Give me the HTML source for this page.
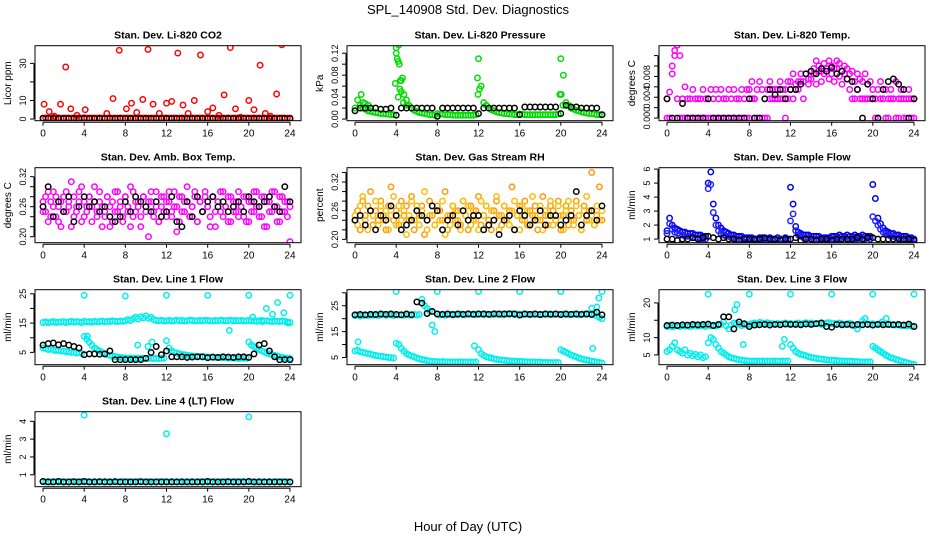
<!DOCTYPE html>
<html><head><meta charset="utf-8"><title>SPL_140908 Std. Dev. Diagnostics</title>
<style>
html,body{margin:0;padding:0;background:#fff;}
svg{display:block;font-family:"Liberation Sans",Arial,sans-serif;}
</style></head>
<body>
<svg id="chart" width="936" height="540" viewBox="0 0 936 540" xmlns="http://www.w3.org/2000/svg">
<text x="468" y="14" text-anchor="middle" font-size="13">SPL_140908  Std. Dev. Diagnostics</text>
<text x="468" y="531" text-anchor="middle" font-size="13">Hour of Day (UTC)</text>
</svg>
<script>
// ---------- data ----------
const xTicks = [0,4,8,12,16,20,24];

const co2Black = [.4,.3,.3,.3,.3,.3,.3,.3,.3,.3,.3,.3,.3,.3,.3,.3,.3,.3,.3,.3,.3,.3,.3,.3,.3,.3,.3,.3,.3,.3,.3,.3,.3,.3,.3,.3,.3,.3,.3,.3,.3,.3,.3,.3,.3,.3,.3,.3,.3];
const co2RedBase = [.5,.6,.5,.5,.7,.5,.6,.5,.5,.6,.5,.5,.6,.5,.5,.5,.7,.5,.5,.6,.5,.5,.6,.5,.5,.5,.6,.5,.5,.5,.6,.5,.5,.6,.5,.5,.5,.6,.5,.5,.6,.5,.5,.5,.6,.5,.5,.6,.5,.5,.5,.6,.5,.5,.6,.5,.5,.5,.6,.5,.5,.6,.5,.5,.5,.6,.5,.5,.6,.5,.5,.5,.6,.5,.5,.6,.5,.5,.5,.6,.5,.5,.6,.5,.5,.5,.6,.5,.5,.6,.5,.5,.5,.6,.5,.5,.5];
const co2RedOutT = [0.1,0.6,1.1,1.7,2.2,2.7,3.3,4.1,6.2,6.8,7.4,8.1,8.6,9.1,9.7,10.2,10.7,11.3,12.0,12.5,13.1,13.6,14.1,14.7,15.3,16.0,16.5,17.1,17.6,18.2,18.7,19.2,20.0,20.5,21.1,21.6,22.1,22.7,23.2];
const co2RedOutV = [8,4,1.5,8,28,5.5,2,5,3,11,37,5.5,8.5,3.5,10.5,37.5,8,3,8.5,9.5,35.5,7.5,3,10,34.5,4,6,2,13,38.5,5.5,1,10,5,29,3,1.5,13.5,40];

const presGreen = [.02,.035,.025,.02,.018,.015,.014,.013,.012,.011,.01,.01,.009,.009,.008,.008,
 .12,.135,.07,.045,.035,.025,.02,.016,.014,.012,.011,.01,.009,.008,.008,.007,
 .01,.009,.009,.008,.008,.008,.007,.007,.007,.007,.007,.007,.007,.007,.007,.008,
 .11,.06,.03,.025,.02,.017,.015,.013,.012,.011,.01,.01,.009,.009,.008,.008,
 .009,.009,.008,.008,.008,.008,.008,.008,.008,.008,.008,.008,.008,.008,.008,.009,
 .11,.08,.03,.025,.02,.018,.016,.015,.013,.012,.011,.01,.01,.009,.008,.008,.008];
const presGreenOutT = [0.6,0.8,1.0,1.3,3.9,4.0,4.1,4.2,4.3,4.4,4.5,4.6,4.2,4.35,11.9,11.95,12.1,19.9,20.05,20.2,4.7,5.0];
const presGreenOutV = [.045,.03,.028,.025,.065,.13,.11,.105,.1,.07,.05,.075,.04,.055,.075,.045,.055,.045,.045,.025,.03,.025];
const presBlack = [.015,.02,.02,.02,.02,.018,.018,.02,.007,.02,.02,.02,.02,.02,.02,.02,.005,.02,.02,.02,.02,.02,.02,.02,.01,.02,.02,.02,.02,.02,.02,.02,.008,.022,.022,.022,.022,.022,.022,.022,.01,.025,.022,.022,.02,.02,.02,.02,.008];

const tempMagA = [.0037,.005,.01,.013,.014,.012,.0037,.006,.0037,.0037,.0055,.0037,.0037,.0037,.0055,.0037,
 .0037,.0055,.0037,.0055,.0037,.0055,.0037,.0037,.0055,.0037,.0055,.0037,.0037,.0055,.0037,.0055,
 .0055,.007,.0037,.0055,.007,.0055,.0037,.0055,.007,.0055,.0037,.0055,.007,.0055,.0055,.007,
 .007,.0085,.0055,.007,.0085,.007,.0085,.0075,.009,.0095,.011,.01,.009,.0105,.0095,.011,
 .01,.0095,.011,.0105,.009,.01,.0095,.0085,.009,.007,.0085,.0075,.007,.0085,.0065,.007,
 .0055,.0037,.0055,.007,.0037,.0055,.0037,.0055,.0037,.007,.0037,.0055,.0037,.0037,.0055,.0037,.0037];
const tempMagB = [0,0,.0085,.012,.0037,0,0,0,0,0,0,0,0,0,0,0,
 0,0,0,0,0,0,0,0,0,0,0,0,0,0,0,0,
 0,.0037,.0037,0,0,0,0,0,.0037,.0037,.0055,.0037,.0037,.0037,0,.0037,
 .0055,.0037,.0065,.0055,.007,.0037,.0085,.0065,.0075,.0085,.0065,.009,.007,.0085,.0095,.0075,
 .0085,.007,.0095,.008,.0065,.0085,.0075,.0055,.0037,.0037,.0055,.0037,.0037,.0037,.0037,.0037,
 .0037,0,0,.0037,.0037,0,0,.0037,.0037,0,0,.0037,0,0,.0037,0,0];
const tempBlack = [.0037,0,0,.0028,0,0,0,0,.0037,0,0,0,0,0,0,0,.0037,0,0,.0037,.0055,.0045,.0055,.0037,.0055,.0055,.0065,.0085,.009,.0085,.0095,.009,.0097,.0085,.009,.0075,.007,.0055,0,.0065,.0037,0,.0055,.007,.0075,.0065,.0055,0,.0037];

const ambMagA = [.27,.25,.29,.24,.26,.28,.23,.27,.25,.29,.26,.22,.28,.25,.27,.30,.24,.26,.28,.23,.27,.25,.29,.26,.24,.28,.22,.27,.25,.29,.26,.23,.28,.25,.30,.24,.27,.26,.22,.28,.25,.27,.29,.24,.26,.23,.28,.25,.27,.29,.24,.26,.21,.28,.25,.27,.30,.24,.26,.28,.23,.27,.25,.29,.26,.24,.28,.22,.27,.25,.29,.26,.23,.28,.25,.27,.24,.26,.28,.23,.27,.25,.29,.26,.24,.28,.22,.27,.25,.29,.26,.23,.28,.25,.27,.24,.26];
const ambMagB = [.25,.28,.23,.27,.29,.24,.26,.22,.28,.25,.27,.31,.24,.26,.29,.23,.27,.25,.28,.26,.30,.24,.27,.22,.25,.28,.26,.23,.29,.25,.27,.24,.28,.26,.22,.29,.25,.27,.24,.28,.26,.20,.27,.25,.29,.23,.26,.28,.24,.27,.25,.29,.26,.23,.28,.25,.27,.24,.26,.29,.23,.27,.25,.28,.26,.22,.28,.25,.27,.29,.24,.26,.28,.23,.27,.25,.29,.26,.24,.28,.23,.27,.25,.29,.26,.24,.28,.22,.27,.25,.29,.26,.23,.28,.25,.27,.19];
const ambBlack = [.26,.30,.24,.27,.25,.28,.23,.26,.28,.26,.27,.25,.26,.24,.23,.24,.27,.25,.28,.27,.26,.25,.27,.24,.25,.28,.23,.22,.27,.24,.28,.25,.27,.28,.26,.27,.25,.26,.27,.25,.28,.27,.26,.27,.28,.26,.25,.30,.27];

const rhA = [.24,.26,.22,.28,.25,.27,.30,.23,.26,.24,.28,.25,.22,.27,.31,.24,.26,.23,.28,.25,.27,.24,.29,.22,.26,.25,.27,.21,.24,.28,.25,.23,.27,.26,.24,.30,.22,.25,.27,.24,.26,.23,.28,.25,.22,.27,.24,.26,.29,.23,.25,.27,.24,.22,.26,.28,.25,.23,.27,.24,.26,.31,.22,.25,.27,.24,.28,.23,.26,.25,.27,.22,.24,.29,.25,.23,.27,.26,.24,.28,.22,.25,.27,.23,.26,.24,.28,.25,.22,.27,.24,.26,.34,.23,.25,.31,.24];
const rhB = [.25,.23,.27,.29,.24,.22,.26,.25,.28,.23,.27,.24,.26,.22,.25,.29,.23,.27,.24,.26,.21,.25,.28,.24,.27,.23,.26,.30,.22,.25,.27,.23,.26,.24,.28,.21,.25,.23,.27,.26,.24,.22,.28,.25,.27,.23,.26,.24,.22,.28,.25,.27,.23,.26,.24,.29,.22,.25,.27,.24,.23,.26,.28,.25,.22,.27,.24,.26,.23,.29,.25,.24,.27,.22,.26,.25,.28,.23,.24,.27,.25,.22,.26,.28,.24,.23,.27,.25,.22,.26,.29,.24,.25,.23,.27,.24,.26];
const rhBlack = [.24,.25,.23,.26,.22,.25,.24,.27,.25,.22,.23,.24,.26,.25,.24,.27,.26,.22,.24,.25,.23,.26,.24,.25,.25,.22,.23,.24,.21,.24,.25,.22,.26,.25,.23,.24,.26,.23,.25,.25,.23,.24,.25,.30,.23,.25,.26,.24,.27];

const flowBlue = [1.6,2.5,2.0,1.8,1.7,1.6,1.5,1.5,1.4,1.4,1.4,1.3,1.3,1.3,1.2,1.2,
 5.0,5.8,3.5,2.5,2.0,1.8,1.6,1.5,1.4,1.3,1.3,1.2,1.2,1.2,1.1,1.1,
 1.1,1.1,1.0,1.0,1.1,1.1,1.0,1.0,1.1,1.0,1.0,1.1,1.0,1.0,1.1,1.0,
 4.7,3.5,1.9,1.5,1.4,1.3,1.3,1.3,1.2,1.2,1.2,1.2,1.1,1.1,1.1,1.1,
 1.2,1.2,1.2,1.3,1.2,1.2,1.3,1.2,1.2,1.3,1.2,1.2,1.3,1.2,1.2,1.2,
 4.9,3.9,2.5,2.1,1.8,1.6,1.5,1.4,1.4,1.3,1.3,1.2,1.2,1.2,1.1,1.1,1.0];
const flowBlue2 = [1.4,2.1,1.7,1.5,1.4,1.3,1.3,1.2,1.2,1.2,1.1,1.1,1.1,1.0,1.0,1.0,
 4.6,4.9,2.9,2.0,1.6,1.4,1.3,1.2,1.2,1.1,1.1,1.0,1.0,1.0,1.0,1.0,
 0.9,1.0,0.9,0.9,1.0,0.9,0.9,1.0,0.9,0.9,1.0,0.9,0.9,1.0,0.9,0.9,
 2.3,2.8,1.6,1.3,1.2,1.1,1.1,1.1,1.0,1.0,1.0,1.0,1.0,0.9,0.9,0.9,
 1.0,1.0,1.1,1.0,1.0,1.1,1.0,1.0,1.1,1.0,1.0,1.1,1.0,1.0,1.1,1.0,
 2.6,2.3,2.0,1.7,1.5,1.4,1.3,1.2,1.2,1.1,1.1,1.0,1.0,1.0,1.0,0.9,0.9];
const flowBlack = [1.0,1.0,0.9,1.0,1.0,1.1,1.0,1.1,1.2,1.1,1.0,1.1,1.0,1.0,0.9,1.0,1.0,1.0,1.0,1.1,1.0,1.0,0.9,1.0,1.0,1.1,0.9,1.0,1.0,0.9,1.0,1.0,0.9,1.0,1.0,1.0,1.0,1.1,1.0,1.1,1.1,1.0,1.0,1.0,1.0,1.0,1.0,1.0,0.9];

const l1Top = [15.2,15.4,15.1,15.3,15.5,15.2,15.4,15.3,15.5,15.2,15.4,15.6,15.3,15.5,15.4,15.2,15.6,15.4,15.5,15.3,15.6,15.4,15.5,15.7,15.4,15.6,15.5,15.8,15.6,15.5,15.7,15.6,15.8,16.2,15.9,16.5,17.0,16.4,17.2,16.8,17.5,16.6,17.0,16.2,15.9,15.8,16.0,15.7,15.8,15.9,15.7,15.8,16.0,15.8,15.9,15.7,15.8,16.0,15.9,15.7,15.8,15.9,15.8,16.0,15.9,15.8,15.7,15.9,15.8,16.0,15.9,15.8,15.9,16.0,15.8,15.9,15.8,15.9,15.7,15.8,15.9,15.7,15.8,15.6,15.8,15.9,15.7,15.8,15.6,15.5,15.7,15.6,15.5,15.7,15.6,15.4,15.2];
const l1Low = [6.5,6.3,6.0,6.2,5.8,5.6,5.8,5.4,5.5,5.2,5.3,5.0,5.1,4.8,4.9,4.6,
 10.5,9.5,8.5,7.5,6.5,6.0,5.5,5.0,4.5,4.2,4.0,3.8,3.6,3.4,3.3,3.2,
 3.1,3.0,3.1,3.0,2.9,3.0,2.9,3.0,2.9,3.0,3.0,2.9,3.0,2.9,3.0,3.0,
 9.0,6.5,5.5,5.0,4.8,4.5,4.3,4.2,4.0,3.9,3.8,3.7,3.6,3.6,3.5,3.5,
 3.4,3.4,3.3,3.3,3.3,3.2,3.2,3.2,3.1,3.1,3.1,3.0,3.0,3.0,3.0,3.0,
 8.5,7.5,7.0,6.5,6.0,5.5,5.2,4.8,4.5,4.2,4.0,3.8,3.5,3.3,3.1,3.0,2.9];
const l1OutT = [4,8,12,16,20,24,4.3,9.2,10.2,10.6,18.1,20.4,21.3,21.7,22.3,22.8,23.4,23.8];
const l1OutV = [24.5,24.2,24.5,24.5,24.5,24.5,10.5,7.5,7.0,8.5,12.5,17.0,15.5,20.0,18.0,22.0,18.5,15.0];
const l1Black = [7.5,8,8.2,7.6,8,7.5,7,6.5,4.2,4.5,4.5,4.4,4.5,5.5,2.5,2.5,2.5,2.5,2.5,2.5,3,5,7,4.2,5.5,3.5,3.5,3.5,3.3,3.4,3.5,3.5,3.2,3.4,3.3,3.5,3.4,3.3,3.5,3.5,3.3,4.5,7.5,8,5.5,3.5,2.5,2.5,2.5];

const l2Top = [21.2,21.4,21.0,21.3,21.5,21.2,21.4,21.3,21.5,21.2,21.4,21.6,21.3,21.5,21.4,21.2,21.6,21.4,21.5,21.3,21.6,21.4,21.5,21.7,21.4,21.6,27.5,25.0,24.0,23.0,17.5,15.0,21.8,21.4,21.6,21.3,21.5,21.7,21.4,21.6,21.5,21.8,21.6,21.5,21.7,21.6,21.8,21.5,21.9,21.7,21.6,21.8,21.7,21.5,21.6,21.8,21.7,21.5,21.6,21.8,21.7,21.9,21.6,21.8,21.7,21.6,21.8,21.7,21.5,21.6,21.8,21.7,21.5,21.6,21.8,21.7,21.9,21.6,21.8,21.7,21.6,21.8,21.7,21.5,21.6,21.8,21.7,21.5,21.6,21.8,21.7,21.9,24.0,22.0,21.0,20.5,20.0];
const l2Low = [7.5,7.8,7.2,7.0,6.8,6.5,6.3,6.0,5.8,5.6,5.5,5.3,5.2,5.0,4.9,4.8,
 10.5,10.0,8.5,7.5,6.5,6.0,5.6,5.2,4.8,4.5,4.2,4.0,3.8,3.6,3.5,3.4,
 3.4,3.3,3.4,3.3,3.3,3.2,3.3,3.2,3.3,3.3,3.2,3.3,3.2,3.3,3.2,3.3,
 8.0,6.5,5.8,5.3,5.0,4.8,4.5,4.3,4.1,4.0,3.9,3.8,3.7,3.6,3.6,3.5,
 3.5,3.4,3.4,3.3,3.3,3.3,3.2,3.2,3.2,3.1,3.1,3.0,3.0,3.0,3.0,3.0,
 8.0,7.5,7.0,6.5,6.0,5.6,5.2,4.8,4.5,4.2,4.0,3.8,3.6,3.4,3.2,3.0,2.9];
const l2OutT = [4,8,12,16,20,24,0.3,11.6,23.1,23.5,23.7];
const l2OutV = [30.5,30.5,30.5,30.5,30.5,30.5,11,9.5,8.5,24.5,28];
const l2Black = [21.5,21.6,21.5,21.7,21.6,21.8,21.7,21.8,21.6,21.5,21.8,21.5,26.5,26.0,22.0,22.8,21.8,21.7,21.8,21.6,21.8,21.7,21.9,21.7,21.8,21.8,21.7,21.9,21.8,21.8,21.9,21.8,21.4,21.8,21.7,21.8,21.6,21.8,21.7,21.8,21.6,21.8,21.7,21.8,21.7,21.8,21.6,22.5,21.5];

const l3Top = [13.2,13.5,13.1,13.3,13.5,13.2,13.4,13.3,13.5,13.2,13.4,13.6,13.3,13.5,13.4,13.2,13.6,13.4,13.5,13.3,13.6,13.8,14.5,13.4,12.5,13.6,14.2,14.0,13.8,13.5,13.7,13.6,13.8,14.0,14.2,13.9,14.4,14.2,14.0,14.3,14.1,14.0,13.9,14.1,13.8,14.0,14.2,13.9,14.1,13.9,14.0,14.2,13.9,14.1,14.3,14.0,14.2,13.9,14.0,14.1,13.8,14.0,14.2,14.3,14.0,14.1,13.9,14.2,14.0,13.8,14.0,14.1,13.9,13.4,12.5,13.6,14.8,15.5,13.8,13.9,14.0,13.8,13.9,14.0,13.7,13.8,13.9,13.7,13.8,13.6,13.7,13.5,13.6,13.4,13.5,13.3,13.2];
const l3Low = [6.0,6.5,7.5,8.5,6.5,6.0,5.5,6.5,5.0,5.5,4.8,5.2,4.5,5.0,4.2,4.5,
 8.5,10.0,9.5,8.0,7.0,6.0,5.5,5.0,4.5,4.2,4.0,3.8,3.6,3.5,3.4,3.3,
 3.3,3.2,3.3,3.2,3.2,3.3,3.2,3.3,3.2,3.2,3.3,3.2,3.2,3.3,3.2,3.3,
 8.0,7.0,6.0,5.5,5.2,5.0,4.8,4.5,4.3,4.2,4.0,3.9,3.8,3.7,3.6,3.5,
 3.5,3.4,3.4,3.3,3.3,3.3,3.2,3.2,3.2,3.1,3.1,3.0,3.0,3.0,3.0,3.0,
 7.5,7.0,6.5,6.0,5.5,5.0,4.6,4.2,4.0,3.7,3.5,3.2,3.0,2.8,2.6,2.4,2.3];
const l3OutT = [4,8,12,16,20,24,6.6,6.8,7.4,11.2,11.4,20.9,21.3];
const l3OutV = [22.5,22.5,22.5,22.5,22.5,22.5,18,19.5,8,7.5,9.5,14.5,15.5];
const l3Black = [13.5,13.6,13.5,13.7,13.6,13.8,13.7,13.8,13.9,13.5,13.8,16,16,12.5,14.5,14.0,13.2,13.6,13.7,13.8,13.6,13.8,13.7,13.9,13.8,13.8,13.7,13.9,13.8,14.0,14.2,13.2,13.0,13.8,13.7,13.8,13.6,13.8,13.7,13.8,13.6,13.8,13.7,13.8,13.7,13.8,13.6,13.9,13.2];

const l4Cyan = [.62,.6,.62,.6,.61,.62,.6,.62,.6,.61,.6,.62,.6,.61,.6,.62,.6,.62,.61,.6,.62,.6,.61,.6,.62,.6,.61,.6,.62,.6,.61,.62,.6,.62,.6,.61,.6,.62,.6,.61,.6,.62,.6,.61,.6,.62,.6,.62,.61,.6,.62,.6,.61,.6,.62,.6,.61,.6,.62,.6,.61,.62,.6,.62,.6,.61,.6,.62,.6,.61,.6,.62,.6,.61,.6,.62,.6,.62,.61,.6,.62,.6,.61,.6,.62,.6,.61,.6,.62,.6,.61,.62,.6,.62,.6,.61,.6];
const l4OutT = [4,12,20];
const l4OutV = [4.35,3.3,4.25];
const l4Black = [.62,.6,.6,.62,.6,.6,.61,.6,.62,.6,.6,.61,.6,.6,.61,.6,.6,.6,.6,.61,.6,.6,.6,.6,.6,.6,.6,.6,.6,.6,.6,.6,.62,.6,.6,.6,.61,.6,.6,.6,.62,.6,.6,.6,.6,.6,.6,.6,.6];

// ---------- drawing ----------
const NS = "http://www.w3.org/2000/svg";
const svg = document.getElementById("chart");
const XMIN = -0.78, XMAX = 25.07, BW = 266;
function reg(arr){ const n=arr.length; return arr.map((v,i)=>i*24/(n-1)); }

const panels = [
 {name:"co2", title:"Stan. Dev. Li-820 CO2", col:0,row:0, ymin:-0.9,ymax:39.5, ticks:[0,10,20,30], labs:["0","10","","30"], ylab:"Licor ppm",
  series:[["red-points",co2RedBase,null,"#ff0000"],["red-outliers",co2RedOutV,co2RedOutT,"#ff0000"],["black-points",co2Black,null,"#000"]]},
 {name:"pressure", title:"Stan. Dev. Li-820 Pressure", col:1,row:0, ymin:-0.003,ymax:0.1337, ticks:[0,.02,.04,.06,.08,.1,.12], labs:["0.00","","0.04","","0.08","","0.12"], ylab:"kPa",
  series:[["green-points",presGreen,null,"#00dd00"],["green-outliers",presGreenOutV,presGreenOutT,"#00dd00"],["black-points",presBlack,null,"#000"]]},
 {name:"temp", title:"Stan. Dev. Li-820 Temp.", col:2,row:0, ymin:-0.0005,ymax:0.0139, ticks:[0,.002,.004,.006,.008,.01,.012], labs:["0.000","","0.004","","0.008","",""], ylab:"degrees C",
  series:[["magenta-points-a",tempMagA,null,"#ff00ff"],["magenta-points-b",tempMagB,null,"#ff00ff"],["black-points",tempBlack,null,"#000"]]},
 {name:"amb-box", title:"Stan. Dev. Amb. Box Temp.", col:0,row:1, ymin:0.188,ymax:0.338, ticks:[.2,.22,.24,.26,.28,.3,.32], labs:["0.20","","","0.26","","","0.32"], ylab:"degrees C",
  series:[["magenta-points-a",ambMagA,null,"#ff00ff"],["magenta-points-b",ambMagB,null,"#ff00ff"],["black-points",ambBlack,null,"#000"]]},
 {name:"rh", title:"Stan. Dev. Gas Stream RH", col:1,row:1, ymin:0.193,ymax:0.35, ticks:[.2,.22,.24,.26,.28,.3,.32,.34], labs:["0.20","","","0.26","","","0.32",""], ylab:"percent",
  series:[["orange-points-a",rhA,null,"#ff9900"],["yellow-points-b",rhB,null,"#ffbb00"],["black-points",rhBlack,null,"#000"]]},
 {name:"sample-flow", title:"Stan. Dev. Sample Flow", col:2,row:1, ymin:0.74,ymax:6.1, ticks:[1,2,3,4,5,6], labs:["1","2","3","4","5","6"], ylab:"ml/min",
  series:[["blue-points",flowBlue,null,"#0000ee"],["blue-points-b",flowBlue2,null,"#2222ff"],["black-points",flowBlack,null,"#000"]]},
 {name:"line1", title:"Stan. Dev. Line 1 Flow", col:0,row:2, ymin:0.8,ymax:26.4, ticks:[5,10,15,20,25], labs:["5","","15","","25"], ylab:"ml/min",
  series:[["cyan-top",l1Top,null,"#00eeee"],["cyan-low",l1Low,null,"#00eeee"],["cyan-outliers",l1OutV,l1OutT,"#00eeee"],["black-points",l1Black,null,"#000"]]},
 {name:"line2", title:"Stan. Dev. Line 2 Flow", col:1,row:2, ymin:2.2,ymax:31.2, ticks:[5,10,15,20,25,30], labs:["5","","15","","25",""], ylab:"ml/min",
  series:[["cyan-top",l2Top,null,"#00eeee"],["cyan-low",l2Low,null,"#00eeee"],["cyan-outliers",l2OutV,l2OutT,"#00eeee"],["black-points",l2Black,null,"#000"]]},
 {name:"line3", title:"Stan. Dev. Line 3 Flow", col:2,row:2, ymin:2.2,ymax:23.8, ticks:[5,10,15,20], labs:["5","10","","20"], ylab:"ml/min",
  series:[["cyan-top",l3Top,null,"#00eeee"],["cyan-low",l3Low,null,"#00eeee"],["cyan-outliers",l3OutV,l3OutT,"#00eeee"],["black-points",l3Black,null,"#000"]]},
 {name:"line4", title:"Stan. Dev. Line 4 (LT) Flow", col:0,row:3, ymin:0.33,ymax:4.54, ticks:[1,2,3,4], labs:["1","2","3","4"], ylab:"ml/min",
  series:[["cyan-points",l4Cyan,null,"#00eeee"],["cyan-outliers",l4OutV,l4OutT,"#00eeee"],["black-points",l4Black,null,"#000"]]}
];

function mk(tag, attrs, parent){
  const e = document.createElementNS(NS, tag);
  for (const k in attrs) e.setAttribute(k, attrs[k]);
  (parent||svg).appendChild(e);
  return e;
}

panels.forEach(p=>{
  const L = 35 + p.col*312, T = 45.7 + p.row*122, H = 75;
  const xs = v => L + (v - XMIN)/(XMAX - XMIN)*BW;
  const ys = v => T + H - (v - p.ymin)/(p.ymax - p.ymin)*H;
  const g = mk("g", {});
  
  

  const t = mk("text", {x:L+BW/2, y:T-7, "text-anchor":"middle", "font-size":"10.5", "font-weight":"bold"}, g);
  t.textContent = p.title;
  
  

  const cid = "clip-" + p.name;
  const cp = mk("clipPath", {id:cid}, g);
  mk("rect", {x:L, y:T, width:BW, height:H}, cp);
  const pts = mk("g", {"clip-path":"url(#"+cid+")"}, g);
  
  

  p.series.forEach(s=>{
    const vals = s[1], times = s[2] || reg(vals), col = s[3];
    const sg = mk("g", {stroke:col, fill:"none", "stroke-width":"1.5"}, pts);
    
    
    vals.forEach((v,i)=>{
      const c = mk("circle", {cx:xs(times[i]).toFixed(1), cy:ys(v).toFixed(1), r:"2.7"}, sg);
      
      
    });
  });

  const box = mk("rect", {x:L, y:T, width:BW, height:H, fill:"none", stroke:"#000", "stroke-width":"1"}, g);
  
  

  const xa = mk("g", {stroke:"#000","stroke-width":"1"}, g);
  
  
  mk("line", {x1:xs(xTicks[0]), x2:xs(xTicks[xTicks.length-1]), y1:T+H+1.5, y2:T+H+1.5}, xa);
  xTicks.forEach(v=>{
    mk("line", {x1:xs(v), x2:xs(v), y1:T+H+1.5, y2:T+H+5}, xa);
    const tl = mk("text", {x:xs(v), y:T+H+16, "text-anchor":"middle", "font-size":"10", stroke:"none", fill:"#000"}, xa);
    tl.textContent = v;
    
    
  });

  const ya = mk("g", {stroke:"#000","stroke-width":"1"}, g);
  
  
  mk("line", {x1:L-1, x2:L-1, y1:ys(p.ticks[0]), y2:ys(p.ticks[p.ticks.length-1])}, ya);
  p.ticks.forEach((v,i)=>{
    const y = ys(v);
    mk("line", {x1:L-5, x2:L-1, y1:y, y2:y}, ya);
    if (p.labs[i]) {
      const tl = mk("text", {x:L-9, y:y, "text-anchor":"middle", "font-size":"9", stroke:"none", fill:"#000", transform:"rotate(-90 "+(L-9)+" "+y+")"}, ya);
      tl.textContent = p.labs[i];
      
      
    }
  });
  const yl = mk("text", {x:L-24, y:T+H/2, "text-anchor":"middle", "font-size":"10", transform:"rotate(-90 "+(L-24)+" "+(T+H/2)+")"}, g);
  yl.textContent = p.ylab;
  
  
});
</script>
</body></html>
